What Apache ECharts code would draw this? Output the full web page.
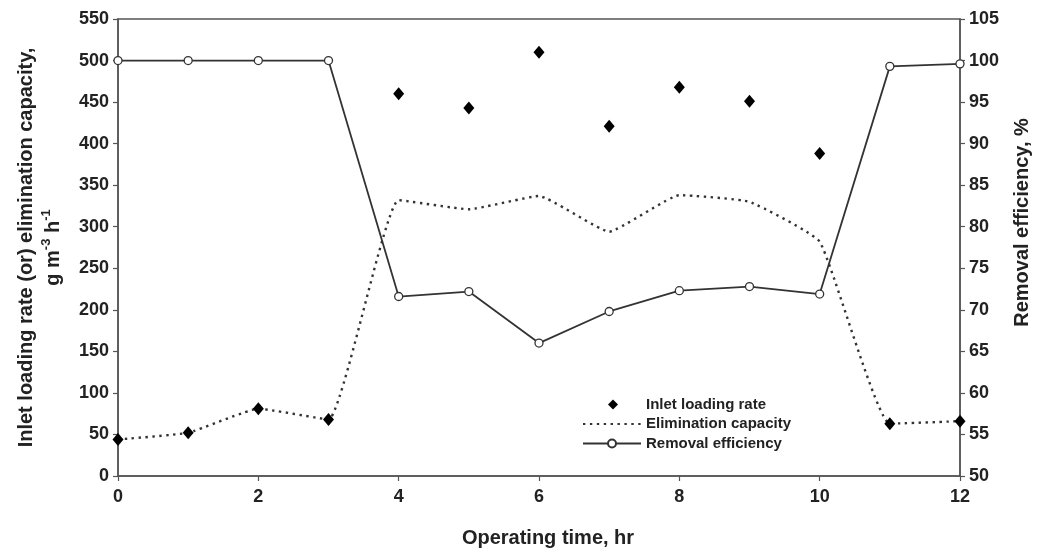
<!DOCTYPE html>
<html>
<head>
<meta charset="utf-8">
<script src="https://cdn.jsdelivr.net/npm/echarts@6/dist/echarts.min.js"></script>
<style>html,body{margin:0;padding:0;background:#fff;}#c{width:1038px;height:553px;}</style>
</head>
<body>
<div id="c"></div>
<script>
const hours = [0, 1, 2, 3, 4, 5, 6, 7, 8, 9, 10, 11, 12];
const inletLoading = [44, 52, 81, 68, 460, 443, 510, 421, 468, 451, 388, 63, 66];
const eliminationCapacity = [44, 52, 81, 68, 332, 321, 337, 294, 338, 330, 282, 63, 66];
const removalEfficiency = [100, 100, 100, 100, 71.6, 72.2, 66.0, 69.8, 72.3, 72.8, 71.9, 99.3, 99.6];
const xTicks = { min: 0, max: 12, interval: 2 };
const leftTicks = { min: 0, max: 550, interval: 50 };
const rightTicks = { min: 50, max: 105, interval: 5 };

const pairs = (ys) => hours.map((h, i) => [h, ys[i]]);
const FONT = 'Liberation Sans, Arial, sans-serif';
const AX = '#555';
const INK = '#222';

const chart = echarts.init(document.getElementById('c'), null, { renderer: 'canvas' });
chart.setOption({
  animation: false,
  backgroundColor: '#fff',
  textStyle: { fontFamily: FONT },
  grid: { left: 118, right: 78, top: 19, bottom: 77, outerBoundsMode: 'none', containLabel: false, show: true, borderColor: AX, borderWidth: 1.5, backgroundColor: 'transparent' },
  legend: {
    orient: 'vertical', left: 577, top: 392, itemWidth: 58, itemHeight: 10, itemGap: 4.5,
    textStyle: { fontFamily: FONT, fontWeight: 'bold', fontSize: 15, color: INK },
    data: [
      { name: 'Inlet loading rate', icon: 'path://M0,0 L0,0 M58,10 L58,10 M30,0 L35,5 L30,10 L25,5 Z' },
      { name: 'Elimination capacity', itemStyle: { opacity: 0 } },
      { name: 'Removal efficiency' }
    ]
  },
  xAxis: {
    type: 'value', min: xTicks.min, max: xTicks.max, interval: xTicks.interval,
    name: 'Operating time, hr', nameLocation: 'middle', nameGap: 52,
    nameTextStyle: { fontFamily: FONT, fontWeight: 'bold', fontSize: 20, color: INK, padding: [0, 0, 0, 18] },
    axisLine: { lineStyle: { color: AX, width: 1.5 } },
    axisTick: { length: 5, lineStyle: { color: AX, width: 1.2 } },
    axisLabel: { fontFamily: FONT, fontWeight: 'bold', fontSize: 18, color: INK, margin: 12 },
    splitLine: { show: false }
  },
  yAxis: [
    {
      type: 'value', position: 'left', min: leftTicks.min, max: leftTicks.max, interval: leftTicks.interval,
      name: 'Inlet loading rate (or) elimination capacity,\n{n|g m}{s|-3}{n| h}{s|-1}',
      nameLocation: 'middle', nameGap: 51, nameRotate: 90,
      nameTextStyle: {
        fontFamily: FONT, fontWeight: 'bold', fontSize: 20, color: INK, lineHeight: 27,
        rich: {
          n: { fontFamily: FONT, fontWeight: 'bold', fontSize: 20, color: INK, lineHeight: 27 },
          s: { fontFamily: FONT, fontWeight: 'bold', fontSize: 13, color: INK, verticalAlign: 'top', padding: [0, 0, 10, 0] }
        }
      },
      axisLine: { show: true, lineStyle: { color: AX, width: 1.5 } },
      axisTick: { show: true, length: 5, lineStyle: { color: AX, width: 1.2 } },
      axisLabel: { fontFamily: FONT, fontWeight: 'bold', fontSize: 18, color: INK, margin: 9 },
      splitLine: { show: false }
    },
    {
      type: 'value', position: 'right', min: rightTicks.min, max: rightTicks.max, interval: rightTicks.interval,
      name: 'Removal efficiency, %', nameLocation: 'middle', nameGap: 52, nameRotate: 90,
      nameTextStyle: { fontFamily: FONT, fontWeight: 'bold', fontSize: 20, color: INK, padding: [0, 0, 0, 50] },
      axisLine: { show: true, lineStyle: { color: AX, width: 1.5 } },
      axisTick: { show: true, length: 5, lineStyle: { color: AX, width: 1.2 } },
      axisLabel: { fontFamily: FONT, fontWeight: 'bold', fontSize: 18, color: INK, margin: 9 },
      splitLine: { show: false }
    }
  ],
  series: [
    {
      name: 'Elimination capacity', type: 'line', yAxisIndex: 0, data: pairs(eliminationCapacity),
      smooth: 0.12, symbol: 'none', z: 2,
      lineStyle: { color: '#333', width: 2.4, type: [2.4, 4.5] },
      itemStyle: { color: '#333' }
    },
    {
      name: 'Inlet loading rate', type: 'scatter', yAxisIndex: 0, data: pairs(inletLoading),
      symbol: 'diamond', symbolSize: [11, 13], z: 4,
      itemStyle: { color: '#000', opacity: 1 }
    },
    {
      name: 'Removal efficiency', type: 'line', yAxisIndex: 1, data: pairs(removalEfficiency),
      symbol: 'circle', symbolSize: 8, showAllSymbol: true, z: 5,
      lineStyle: { color: '#333', width: 1.8 },
      itemStyle: { color: '#fff', borderColor: '#333', borderWidth: 1.3 }
    }
  ]
});
</script>
</body>
</html>
